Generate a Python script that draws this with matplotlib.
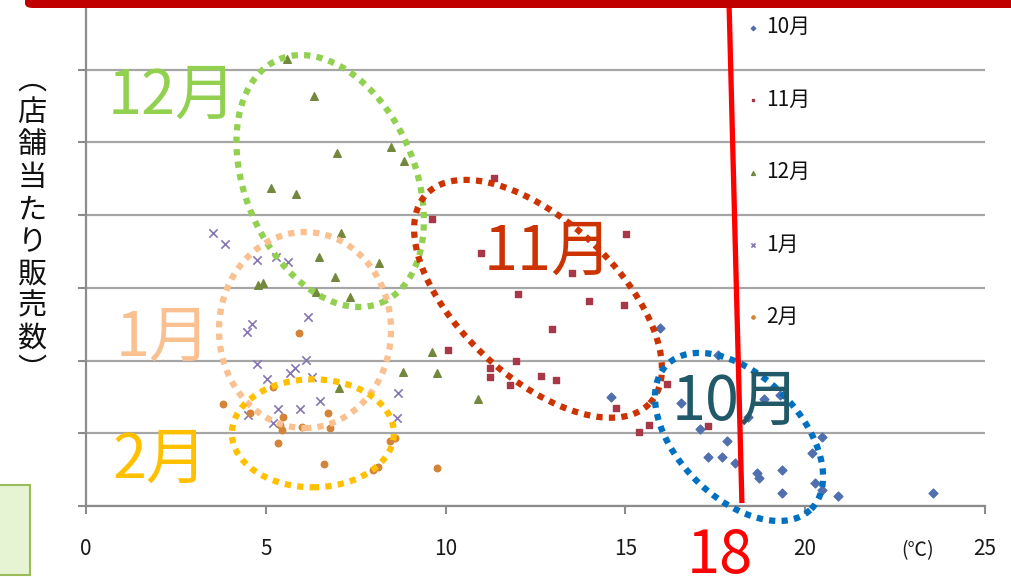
import matplotlib
matplotlib.use("Agg")
import matplotlib.pyplot as plt
import matplotlib.patches as patches
import numpy as np

plt.rcParams['font.family'] = ['Noto Sans CJK JP', 'DejaVu Sans']

# temperature (x) vs sales per store (y)
oct_x = [15.96, 17.58, 14.60, 16.55, 17.07, 17.83, 17.30, 17.69, 18.05, 18.66, 18.72,
         19.35, 19.35, 18.85, 18.41, 19.30, 20.47, 20.19, 20.27, 20.47, 20.91, 23.55]
oct_y = [2.45, 2.08, 1.50, 1.42, 1.06, 0.89, 0.67, 0.67, 0.59, 0.45, 0.39,
         0.50, 0.18, 1.47, 1.22, 1.53, 0.95, 0.73, 0.32, 0.22, 0.14, 0.18]

nov_x = [11.35, 9.62, 15.02, 10.98, 13.52, 12.01, 13.99, 14.96, 12.96, 10.07, 11.96,
         11.23, 11.23, 12.65, 13.07, 11.79, 16.16, 14.74, 15.66, 15.38, 17.30]
nov_y = [4.51, 3.95, 3.74, 3.48, 3.20, 2.92, 2.82, 2.76, 2.43, 2.15, 1.99,
         1.90, 1.77, 1.79, 1.73, 1.66, 1.68, 1.35, 1.11, 1.02, 1.10]

dec_x = [5.59, 6.34, 6.98, 8.48, 8.84, 5.14, 5.84, 7.09, 6.48, 8.15, 6.92,
         4.78, 4.92, 6.40, 7.34, 9.62, 8.82, 9.76, 7.04, 10.90]
dec_y = [6.15, 5.64, 4.86, 4.94, 4.75, 4.37, 4.29, 3.76, 3.43, 3.34, 3.15,
         3.04, 3.07, 2.94, 2.87, 2.12, 1.84, 1.83, 1.62, 1.47]

jan_x = [3.53, 3.87, 4.76, 5.28, 5.62, 6.17, 4.62, 4.48, 4.76, 6.12, 5.81,
         5.67, 5.03, 6.28, 8.68, 6.51, 5.95, 5.34, 4.51, 5.20, 8.65]
jan_y = [3.76, 3.60, 3.38, 3.43, 3.36, 2.60, 2.50, 2.39, 1.95, 2.01, 1.90,
         1.83, 1.75, 1.77, 1.55, 1.44, 1.33, 1.33, 1.25, 1.14, 1.21]

feb_x = [5.92, 3.81, 5.20, 6.73, 5.48, 5.39, 5.45, 6.01, 6.79, 5.34, 6.62,
         7.98, 8.12, 8.59, 8.45, 9.76, 4.56]
feb_y = [2.38, 1.40, 1.64, 1.28, 1.22, 1.11, 1.05, 1.09, 1.07, 0.87, 0.58,
         0.50, 0.54, 0.94, 0.89, 0.52, 1.28]

x_ticks = [0, 5, 10, 15, 20, 25]
y_lines = [0, 1, 2, 3, 4, 5, 6]
months = ['10月', '11月', '12月', '1月', '2月']

fig = plt.figure(figsize=(10.12, 5.8), dpi=100)
ax = fig.add_axes([86 / 1012, 74 / 580, 899 / 1012, 506 / 580])
ax.set_xlim(0, 25)
ax.set_ylim(0, 6.96)
PX_X = 899 / 25
PX_Y = 506 / 6.96

ax.set_xticks(x_ticks)
ax.set_yticks(y_lines)
ax.set_yticklabels([])
ax.tick_params(axis='x', length=6, width=1.5, color='#8c8c8c', pad=17,
               labelsize=15, labelcolor='#1a1a1a')
ax.tick_params(axis='y', length=6, width=1.5, color='#8c8c8c')
ax.grid(axis='y', color='#a6a6a6', lw=1.6, zorder=0)
ax.set_axisbelow(True)
for s in ['top', 'right']:
    ax.spines[s].set_visible(False)
for s in ['left', 'bottom']:
    ax.spines[s].set_color('#8c8c8c')
    ax.spines[s].set_linewidth(1.6)

h1 = ax.scatter(oct_x, oct_y, marker='D', s=20, color='#4f6fae', zorder=2, label=months[0])
h2 = ax.scatter(nov_x, nov_y, marker='s', s=18, color='#a83848', zorder=2, label=months[1])
h3 = ax.scatter(dec_x, dec_y, marker='^', s=30, color='#73883c', zorder=2, label=months[2])
h4 = ax.scatter(jan_x, jan_y, marker='x', s=36, lw=1.2, color='#8676b2', zorder=2, label=months[3])
h5 = ax.scatter(feb_x, feb_y, marker='o', s=22, color='#d38439', zorder=2, label=months[4])

leg = ax.legend(handles=[h1, h2, h3, h4, h5], loc='upper left',
                bbox_to_anchor=(0.71, 1.005), frameon=False, fontsize=15,
                labelspacing=2.42, handletextpad=0.1, markerscale=0.5,
                handlelength=1.0)
for t in leg.get_texts():
    t.set_color('#111111')


def ring(cx, cy, a, b, tilt, color):
    # dotted ellipse, sizes given in screen pixels
    t = np.linspace(0, 2 * np.pi, 400)
    r = np.radians(tilt)
    dx = a * np.cos(t) * np.sin(r) + b * np.sin(t) * np.cos(r)
    dy = a * np.cos(t) * np.cos(r) - b * np.sin(t) * np.sin(r)
    ax.plot(cx + dx / PX_X, cy - dy / PX_Y, ls=(0, (1, 1)), lw=4.5,
            color=color, zorder=3, clip_on=False)


ring(6.79, 4.47, 132, 85, 23, '#92d050')
ring(6.09, 2.42, 98, 86, 0, '#fac090')
ring(6.31, 1.00, 54, 81, 0, '#ffc000')
ring(12.57, 2.85, 153, 78, 47, '#cc3300')
ring(18.16, 0.95, 102, 61, 45, '#0070c0')

big = dict(fontsize=44, ha='center', va='center', zorder=4)
ax.text(2.39, 5.63, '12月', color='#92d050', **big)
ax.text(2.14, 2.31, '1月', color='#fac090', **big)
ax.text(2.06, 0.62, '2月', color='#ffc000', **big)
ax.text(12.85, 3.49, '11月', color='#cc3300', **big)
ax.text(18.08, 1.42, '10月', color='#215968', **big)

# 18 degree line
ax.plot([17.88, 18.24], [6.96, 0.04], color='#ff0000', lw=3.8, zorder=5,
        clip_on=False, solid_capstyle='butt')
ax.text(17.62, -0.70, '18', color='#ff0000', fontsize=43, ha='center',
        va='center', clip_on=False, zorder=5)

fig.text(918 / 1012, 1 - 551 / 580, '(℃)', fontsize=14, color='#1a1a1a',
         ha='center', va='center')
fig.text(32 / 1012, 1 - 226 / 580, '︵\n店\n舗\n当\nた\nり\n販\n売\n数\n︶',
         fontsize=21, color='#111111', ha='center', va='center', linespacing=1.1)

# frame decorations
fig.patches.append(patches.FancyBboxPatch((25 / 1012, 1 - 8 / 580), 1.0, 0.05,
                                          boxstyle='round,pad=0,rounding_size=0.008',
                                          transform=fig.transFigure, fc='#c00000',
                                          ec='none', zorder=10))
fig.patches.append(patches.Rectangle((-0.01, 5 / 580), 40 / 1012, 90 / 580,
                                     transform=fig.transFigure, fc='#e6f4d4',
                                     ec='#9bbb59', lw=1.5, zorder=10))

fig.savefig('out.png', dpi=100)
